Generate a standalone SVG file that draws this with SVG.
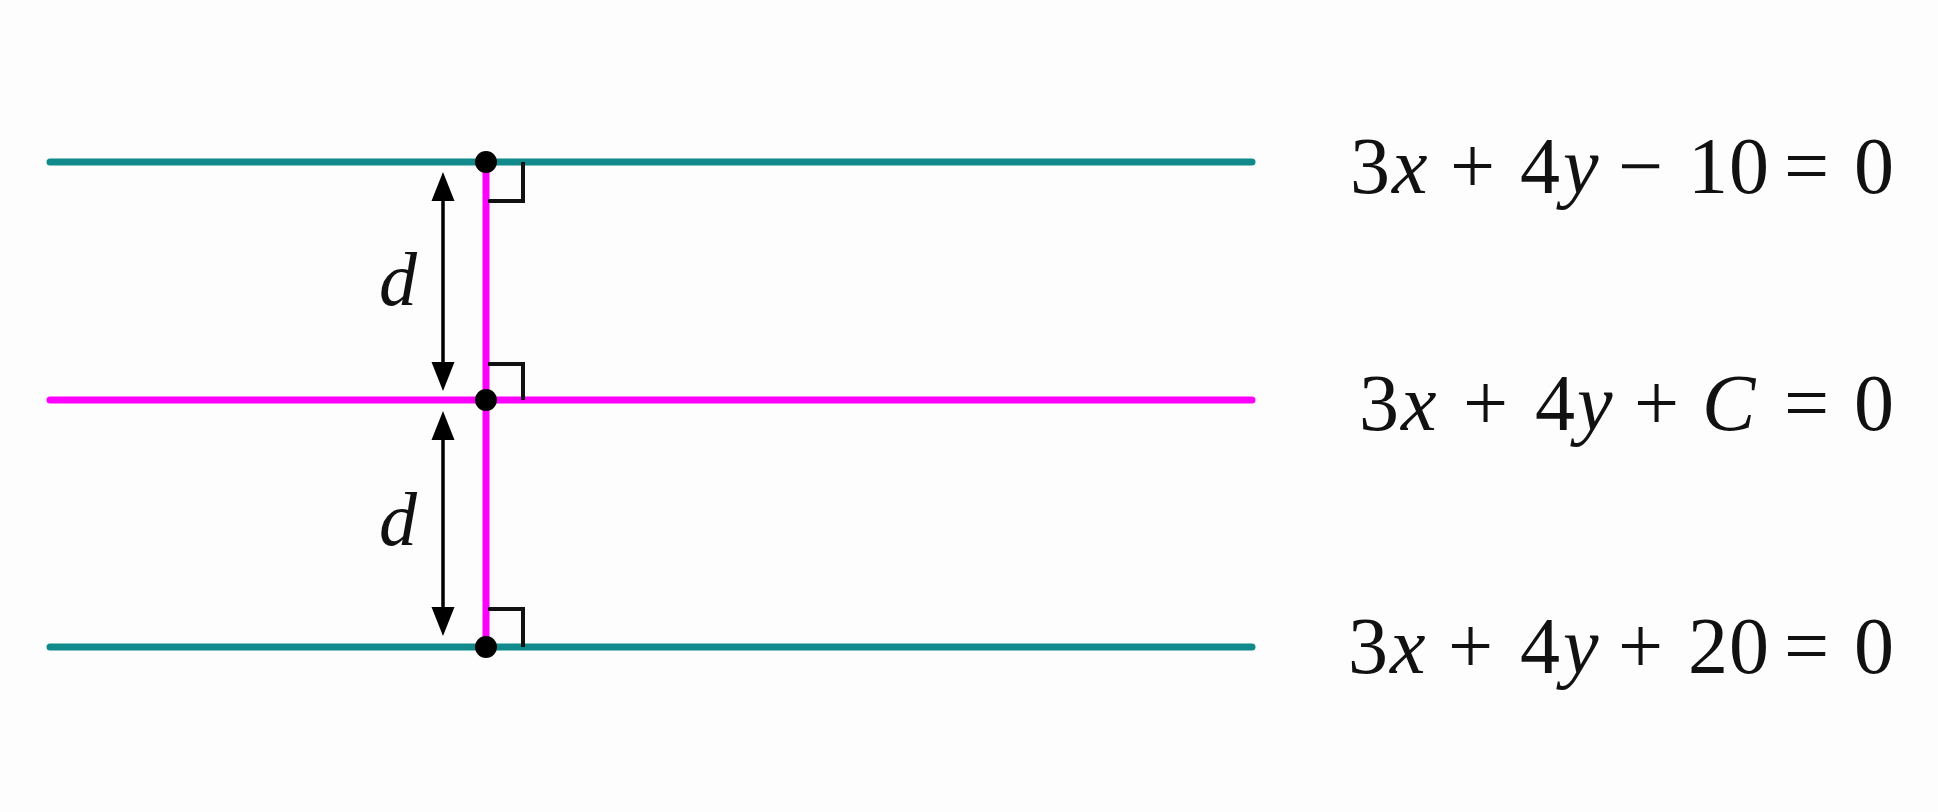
<svg xmlns="http://www.w3.org/2000/svg" width="1938" height="812" viewBox="0 0 1938 812">
<style>
.teal{stroke:#118a8b;stroke-width:7;stroke-linecap:round;fill:none}
.mag{stroke:#ff00ff;stroke-width:7;fill:none}
.magl{stroke:#ff00ff;stroke-width:7;stroke-linecap:round;fill:none}
.ra{stroke:#111;stroke-width:4;fill:none;stroke-linejoin:miter}
.dot{fill:#000}
.arr{stroke:#000;stroke-width:3.5;fill:none;marker-start:url(#ah);marker-end:url(#ah)}
.eq{font-family:"Liberation Serif","DejaVu Serif",serif;font-size:80px;fill:#111}
.it{font-style:italic}
.lbl{font-family:"Liberation Serif","DejaVu Serif",serif;font-size:76px;font-style:italic;fill:#111}
</style>
<defs>
<marker id="ah" markerUnits="userSpaceOnUse" markerWidth="32" markerHeight="26" viewBox="0 -13 32 26" refX="1" refY="0" orient="auto-start-reverse" overflow="visible">
<path d="M0,-11.5 L29,0 L0,11.5 z" fill="#000"/>
</marker>
</defs>
<rect width="1938" height="812" fill="#fdfdfd"/>
<g id="line-top"><line class="teal" x1="50" y1="162" x2="1252" y2="162"/></g>
<g id="line-bottom"><line class="teal" x1="50" y1="647" x2="1252" y2="647"/></g>
<g id="line-middle"><line class="magl" x1="50" y1="400" x2="1252" y2="400"/></g>
<g id="connectors">
<line class="mag" x1="486" y1="162" x2="486" y2="647"/>
<path class="ra" d="M488,201 H523 V162"/>
<path class="ra" d="M488,364 H523 V400"/>
<path class="ra" d="M488,609 H523 V647"/>
<line class="arr" x1="443" y1="200" x2="443" y2="363"/>
<line class="arr" x1="443" y1="439" x2="443" y2="608"/>
</g>
<g id="points">
<circle class="dot" cx="486" cy="162" r="11"/>
<circle class="dot" cx="486" cy="400" r="11"/>
<circle class="dot" cx="486" cy="647" r="11"/>
</g>
<g id="label-d1"><text class="lbl" x="379" y="305">d</text></g>
<g id="label-d2"><text class="lbl" x="379" y="545">d</text></g>
<g id="eq-top"><text class="eq" y="193"><tspan x="1350">3</tspan><tspan class="it" x="1392">x</tspan><tspan x="1450">+</tspan><tspan x="1520">4</tspan><tspan class="it" x="1563">y</tspan><tspan x="1618">−</tspan><tspan x="1688">1</tspan><tspan x="1729">0</tspan><tspan x="1784">=</tspan><tspan x="1854">0</tspan></text></g>
<g id="eq-middle"><text class="eq" y="430"><tspan x="1359">3</tspan><tspan class="it" x="1401">x</tspan><tspan x="1463">+</tspan><tspan x="1535">4</tspan><tspan class="it" x="1577">y</tspan><tspan x="1634">+</tspan><tspan class="it" x="1702">C</tspan><tspan x="1784">=</tspan><tspan x="1854">0</tspan></text></g>
<g id="eq-bottom"><text class="eq" y="673"><tspan x="1348">3</tspan><tspan class="it" x="1390">x</tspan><tspan x="1448">+</tspan><tspan x="1520">4</tspan><tspan class="it" x="1563">y</tspan><tspan x="1618">+</tspan><tspan x="1688">2</tspan><tspan x="1729">0</tspan><tspan x="1784">=</tspan><tspan x="1854">0</tspan></text></g>
</svg>
